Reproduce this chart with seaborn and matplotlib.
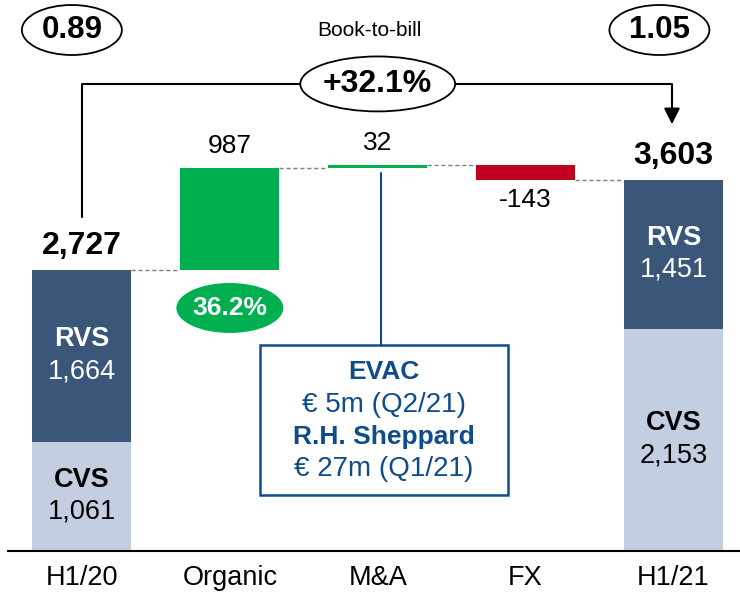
import numpy as np
import pandas as pd
import seaborn as sns
import matplotlib.pyplot as plt
from matplotlib.patches import Ellipse, Rectangle

# Order intake bridge H1/20 -> H1/21 (EUR m)
categories = ['H1/20', 'Organic', 'M&A', 'FX', 'H1/21']
start_total = 2727
steps = [987, 32, -143]
end_total = 3603
cvs = [1061, 2153]
rvs = [1664, 1451]
step_labels = ['987', '32', '-143']
book_to_bill = ['0.89', '1.05']
growth_label = '+32.1%'
organic_growth = '36.2%'
mna_lines = ['EVAC', '€ 5m (Q2/21)', 'R.H. Sheppard', '€ 27m (Q1/21)']

navy = '#3A5779'
light = '#C3CEE0'
green = '#00B050'
red = '#C0001E'
boxblue = '#0F4C8A'

sns.set_theme(style='white')
plt.rcParams['font.family'] = ['Liberation Sans', 'DejaVu Sans']

# running totals for the floating bars
levels = np.cumsum([start_total] + steps)
tops = [start_total] + [max(levels[i], levels[i + 1]) for i in range(3)] + [end_total]
bottoms = [cvs[0]] + [min(levels[i], levels[i + 1]) for i in range(3)] + [cvs[1]]
top_colors = [navy, green, green, red, navy]
bottom_colors = [light, 'white', 'white', 'white', light]

df = pd.DataFrame({'cat': categories, 'top': tops, 'bottom': bottoms})

fig = plt.figure(figsize=(7.4, 5.93), dpi=100)
ax = fig.add_axes([8 / 740, 42 / 593, 732 / 740, 551 / 593])

sns.barplot(data=df, x='cat', y='top', hue='cat', palette=top_colors, order=categories,
            width=0.67, legend=False, ax=ax, saturation=1, linewidth=0, zorder=2)
sns.barplot(data=df, x='cat', y='bottom', hue='cat', palette=bottom_colors, order=categories,
            width=0.67, legend=False, ax=ax, saturation=1, linewidth=0, zorder=2)

ax.set_xlim(-0.5, 4.45)
ax.set_ylim(0, 5344)
ax.set_xlabel('')
ax.set_ylabel('')
ax.set_yticks([])
for s in ['top', 'right', 'left']:
    ax.spines[s].set_visible(False)
ax.spines['bottom'].set_color('black')
ax.spines['bottom'].set_linewidth(1.5)
ax.spines['bottom'].set_zorder(5)
ax.tick_params(axis='x', length=0, pad=10, labelsize=19.5, labelcolor='black')

# dashed connectors between bars
conn_levels = list(levels) + [end_total]
half = 0.67 / 2
for i in range(4):
    ax.plot([i + half, i + 1 - half], [conn_levels[i], conn_levels[i]],
            color='#7F7F7F', lw=1, ls=(0, (3, 2)), zorder=1)

# totals
for i, v in [(0, start_total), (4, end_total)]:
    ax.annotate(f'{v:,}', (i, v), xytext=(0, 17), textcoords='offset points',
                ha='center', va='center', fontsize=23, fontweight='bold', color='black')

# step labels
for k, lab in enumerate(step_labels):
    i = k + 1
    if steps[k] >= 0:
        ax.annotate(lab, (i, tops[i]), xytext=(0, 16), textcoords='offset points',
                    ha='center', va='center', fontsize=19, color='black')
    else:
        ax.annotate(lab, (i, bottoms[i]), xytext=(0, -15), textcoords='offset points',
                    ha='center', va='center', fontsize=19, color='black')

# segment labels
for j, i in enumerate([0, 4]):
    mid_r = cvs[j] + rvs[j] / 2
    mid_c = cvs[j] / 2
    ax.annotate('RVS', (i, mid_r), xytext=(0, 12), textcoords='offset points',
                ha='center', va='center', fontsize=19.5, fontweight='bold', color='white')
    ax.annotate(f'{rvs[j]:,}', (i, mid_r), xytext=(0, -11), textcoords='offset points',
                ha='center', va='center', fontsize=19.5, color='white')
    ax.annotate('CVS', (i, mid_c), xytext=(0, 12), textcoords='offset points',
                ha='center', va='center', fontsize=19.5, fontweight='bold', color='black')
    ax.annotate(f'{cvs[j]:,}', (i, mid_c), xytext=(0, -11), textcoords='offset points',
                ha='center', va='center', fontsize=19.5, color='black')

# organic growth ellipse
ax.add_patch(Ellipse((1, 2357), 0.723, 485, facecolor=green, edgecolor='none', zorder=3))
ax.text(1, 2357, organic_growth, ha='center', va='center', fontsize=19,
        fontweight='bold', color='white', zorder=4)

# M&A box with connector
ax.plot([2.02, 2.02], [3666, 1998], color=boxblue, lw=1.5, zorder=3)
ax.add_patch(Rectangle((1.203, 543), 2.878 - 1.203, 1998 - 543, facecolor='white',
                       edgecolor=boxblue, lw=1.8, zorder=3))
for k, (line, yv) in enumerate(zip(mna_lines, [1736, 1416, 1106, 795])):
    ax.text(2.04, yv, line, ha='center', va='center', color=boxblue,
            fontsize=19 if k % 2 == 0 else 20,
            fontweight='bold' if k % 2 == 0 else 'normal', zorder=4)

# book-to-bill ellipses
for x0, lab in [(-0.068, book_to_bill[0]), (3.905, book_to_bill[1])]:
    ax.add_patch(Ellipse((x0, 5053), 0.676, 485, facecolor='white', edgecolor='black',
                         lw=1.3, zorder=3, clip_on=False))
    ax.text(x0, 5053, lab, ha='center', va='center', fontsize=22.5, fontweight='bold',
            color='black', zorder=4)
ax.text(1.946, 5053, 'Book-to-bill', ha='center', va='center', fontsize=15, color='black')

# growth bracket
ax.plot([0, 0, 1.47], [3240, 4530, 4530], color='black', lw=1.5, zorder=2)
ax.plot([2.52, 3.99, 3.99], [4530, 4530, 4260], color='black', lw=1.5, zorder=2)
ax.annotate('', xy=(3.99, 4112), xytext=(3.99, 4300),
            arrowprops=dict(arrowstyle='-|>,head_length=0.8,head_width=0.4',
                            color='black', lw=1.5))
ax.add_patch(Ellipse((2.0, 4530), 1.047, 533, facecolor='white', edgecolor='black',
                     lw=1.3, zorder=3))
ax.text(2.0, 4530, growth_label, ha='center', va='center', fontsize=23, fontweight='bold',
        color='black', zorder=4)

fig.savefig('out.png', dpi=100)
